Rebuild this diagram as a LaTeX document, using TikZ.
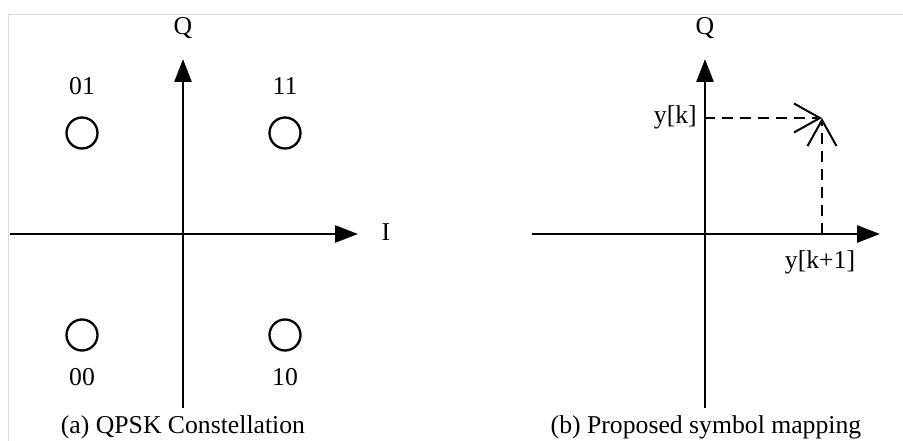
\documentclass[tikz,border=0pt]{standalone}
\usepackage{fontspec}
\setmainfont{Liberation Serif}
\usetikzlibrary{arrows.meta}
\begin{document}
\begin{tikzpicture}[x=1pt,y=-1pt,
  axis/.style={line width=2.7pt,-{Triangle[length=23pt,width=17pt]}},
  pt/.style={circle,draw,line width=2.3pt,minimum size=31pt,inner sep=0pt},
  lbl/.style={font=\fontsize{25.7}{30}\selectfont,inner sep=0pt},
  dsh/.style={line width=1.5pt,dash pattern=on 11pt off 7pt,
     -{Straight Barb[length=26pt,width=29pt,line width=2pt]}},
  frame/.style={draw=black!15,line width=1pt}]
\useasboundingbox (0,0) rectangle (903,441);
\draw[frame] (8,441) -- (8,15) -- (903,15);
% ---------- (a)
\coordinate (aL) at (10,234);
\coordinate (aR) at (358,234);
\coordinate (aB) at (183,408);
\coordinate (aT) at (183,59);
\draw[axis] (aL) -- (aR);
\draw[axis] (aB) -- (aT);
\node[lbl] (aQ) at (183,28) {Q};
\node[lbl] (aI) at (386,232) {I};
\node[pt] (p01) at (82,133) {};
\node[pt] (p11) at (285,133) {};
\node[pt] (p00) at (82,335) {};
\node[pt] (p10) at (285,335) {};
\node[lbl] (l01) at (82,86) {01};
\node[lbl] (l11) at (285,86) {11};
\node[lbl] (l00) at (82,377) {00};
\node[lbl] (l10) at (285,377) {10};
\node[lbl] (capa) at (183,427) {(a) QPSK Constellation};
% ---------- (b)
\coordinate (bL) at (532,234);
\coordinate (bR) at (880,234);
\coordinate (bB) at (705,408);
\coordinate (bT) at (705,59);
\draw[axis] (bL) -- (bR);
\draw[axis] (bB) -- (bT);
\node[lbl] (bQ) at (705,28) {Q};
\coordinate (yk) at (704,118);
\coordinate (corner) at (822,118);
\coordinate (yk1) at (822,234);
\node[lbl,anchor=east] (lyk) at (697,117) {y[k]};
\node[lbl] (lyk1) at (820,262) {y[k+1]};
\draw[dsh] (yk) -- (corner);
\draw[dsh] (yk1) -- (corner);
\node[lbl] (capb) at (706,427) {(b) Proposed symbol mapping};
\end{tikzpicture}
\end{document}
